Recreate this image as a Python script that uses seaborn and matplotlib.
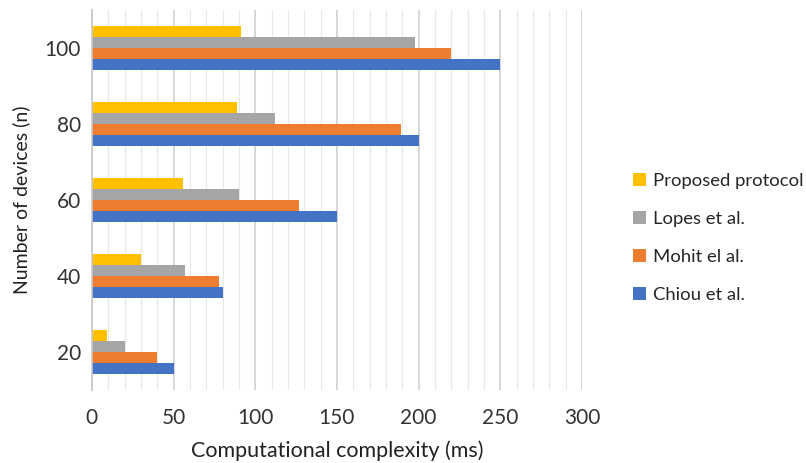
#computational complexity vs number of devices - grouped horizontal bars
import numpy as np
import pandas as pd
import matplotlib.pyplot as plt
import seaborn as sns
from matplotlib.ticker import MultipleLocator

devices = ["100", "80", "60", "40", "20"]
methods = ["Proposed protocol", "Lopes et al.", "Mohit el al.", "Chiou et al."]
proposed = [91, 89, 56, 30, 9]
lopes = [198, 112, 90, 57, 20]
mohit = [220, 189, 127, 78, 40]
chiou = [250, 200, 150, 80, 50]
colors = ["#FFC000", "#A5A5A5", "#ED7D31", "#4472C4"]

#long format table for seaborn
rows = []
for m, vals in zip(methods, [proposed, lopes, mohit, chiou]):
    for d, v in zip(devices, vals):
        rows.append({"devices": d, "method": m, "ms": v})
df = pd.DataFrame(rows)

sns.set_style("white")
plt.rcParams['font.family'] = ['Lato', 'DejaVu Sans']

fig = plt.figure(figsize=(8.06, 4.63), dpi=100)
ax = fig.add_axes([0.114, 0.158, 0.608, 0.82])

sns.barplot(data=df, y="devices", x="ms", hue="method", order=devices,
            hue_order=methods, palette=colors, orient="h", width=0.58,
            saturation=1, linewidth=0, ax=ax)

ax.set_xlim(0, 300)
ax.xaxis.set_major_locator(MultipleLocator(50))
ax.xaxis.set_minor_locator(MultipleLocator(10))
ax.grid(axis="x", which="major", color="#D0D0D0", linewidth=1.2)
ax.grid(axis="x", which="minor", color="#E8E8E8", linewidth=0.9)
ax.set_axisbelow(True)
for s in ["top", "right", "bottom"]:
    ax.spines[s].set_visible(False)
ax.spines["left"].set_color("#C8C8C8")
ax.spines["left"].set_linewidth(1.2)
ax.tick_params(axis="both", length=0, labelsize=15, colors="#333333", pad=8)
ax.tick_params(axis="x", pad=13)

ax.set_xlabel("Computational complexity (ms)", fontsize=15.5, color="#222222", labelpad=9)
ax.set_ylabel("Number of devices (n)", fontsize=14, color="#222222", labelpad=10)

ax.legend(loc="center left", bbox_to_anchor=(1.07, 0.40), frameon=False,
          fontsize=13.3, labelspacing=1.2, handlelength=0.7, handleheight=0.7,
          handletextpad=0.4)

plt.savefig("out.png", dpi=100)
